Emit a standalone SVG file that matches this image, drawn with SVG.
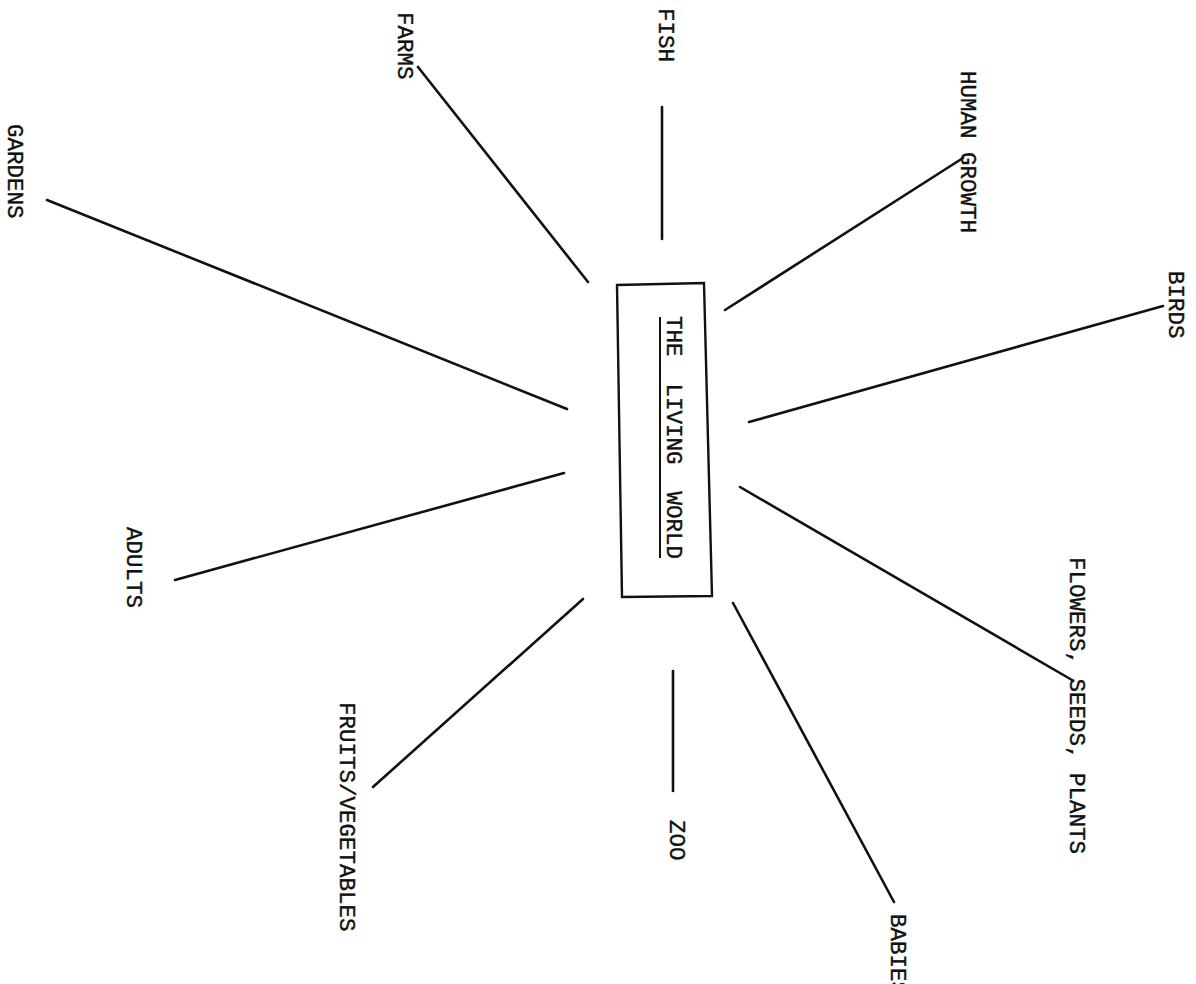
<svg xmlns="http://www.w3.org/2000/svg" width="1196" height="984" viewBox="0 0 1196 984">
<style>
.lbl{font-family:"Liberation Mono","Courier New",monospace;font-size:22.5px;fill:#111;stroke:#111;stroke-width:0.4}
.ln{stroke:#111;stroke-width:2.6;stroke-linecap:round;fill:none}
.box{stroke:#111;stroke-width:2.4;fill:none}
</style>
<rect width="1196" height="984" fill="#ffffff"/>
<g id="connectors">
<line class="ln" x1="418" y1="67" x2="588" y2="282"/>
<line class="ln" x1="662" y1="107" x2="662" y2="239"/>
<line class="ln" x1="963" y1="158" x2="725" y2="310"/>
<line class="ln" x1="1163" y1="306" x2="749" y2="422"/>
<line class="ln" x1="740" y1="487" x2="1072" y2="680"/>
<line class="ln" x1="733" y1="603" x2="894" y2="902"/>
<line class="ln" x1="673" y1="671" x2="673" y2="791"/>
<line class="ln" x1="583" y1="599" x2="373" y2="787"/>
<line class="ln" x1="564" y1="473" x2="175" y2="580"/>
<line class="ln" x1="47" y1="200" x2="567" y2="409"/>
</g>
<g id="center">
<polygon class="box" points="617,285 704,283 712,596 622,597"/>
<line x1="660" y1="317" x2="660" y2="558" stroke="#111" stroke-width="2"/>
<text class="lbl" xml:space="preserve" transform="translate(667,316) rotate(90)">THE  LIVING  WORLD</text>
</g>
<g id="farms"><text class="lbl" transform="translate(398,12) rotate(90)">FARMS</text></g>
<g id="gardens"><text class="lbl" transform="translate(8,124) rotate(90)">GARDENS</text></g>
<g id="fish"><text class="lbl" transform="translate(659,8) rotate(90)">FISH</text></g>
<g id="human-growth"><text class="lbl" transform="translate(961,71) rotate(90)">HUMAN GROWTH</text></g>
<g id="birds"><text class="lbl" transform="translate(1169,271) rotate(90)">BIRDS</text></g>
<g id="flowers"><text class="lbl" transform="translate(1070,557) rotate(90)">FLOWERS, SEEDS, PLANTS</text></g>
<g id="babies"><text class="lbl" transform="translate(891,914) rotate(90)">BABIES</text></g>
<g id="zoo"><text class="lbl" transform="translate(670,820) rotate(90)">ZOO</text></g>
<g id="fruits"><text class="lbl" transform="translate(340,702) rotate(90)">FRUITS/VEGETABLES</text></g>
<g id="adults"><text class="lbl" transform="translate(127,527) rotate(90)">ADULTS</text></g>
</svg>
